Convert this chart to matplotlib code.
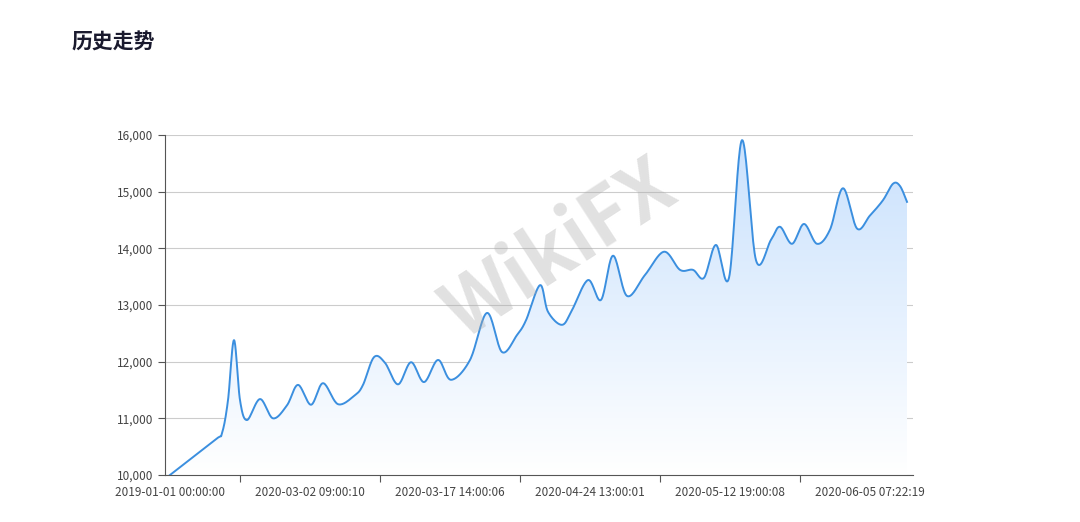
import numpy as np
import matplotlib
matplotlib.use("Agg")
import matplotlib.pyplot as plt
from matplotlib.patches import Polygon
from matplotlib.colors import LinearSegmentedColormap

plt.rcParams['font.family'] = ['Noto Sans CJK SC', 'DejaVu Sans']

# position along time axis (arbitrary units) and values
pos = [5, 50, 57, 63, 69, 75, 82, 95, 108, 122, 133, 146, 158, 173, 190, 198, 209, 220, 233, 246,
       259, 273, 286, 305, 322, 337, 352, 361, 375, 383, 397, 407, 423, 436, 448, 462, 480, 499,
       515, 528, 539, 551, 564, 577, 591, 606, 615, 627, 639, 652, 665, 678, 692, 705, 718, 728,
       735, 742]
vals = [10000, 10620, 10740, 11320, 12380, 11320, 10970, 11340, 11000, 11230, 11590, 11240, 11620,
        11250, 11410, 11590, 12080, 11980, 11600, 11990, 11640, 12030, 11680, 12030, 12860, 12170,
        12470, 12730, 13350, 12880, 12650, 12910, 13440, 13090, 13870, 13160, 13530, 13940, 13620,
        13620, 13480, 14060, 13480, 15910, 13790, 14150, 14380, 14080, 14430, 14080, 14330, 15060,
        14350, 14580, 14850, 15140, 15100, 14820]
x_labels = ["2019-01-01 00:00:00", "2020-03-02 09:00:10", "2020-03-17 14:00:06",
            "2020-04-24 13:00:01", "2020-05-12 19:00:08", "2020-06-05 07:22:19"]
label_pos = [5, 145, 285, 425, 565, 705]
tick_pos = [75, 215, 355, 495, 635]

def catmull(x, y, n=20):
    x = np.asarray(x, float); y = np.asarray(y, float)
    P = np.column_stack([x, y])
    P = np.vstack([P[0], P, P[-1]])
    out = []
    for i in range(1, len(P) - 2):
        p0, p1, p2, p3 = P[i-1], P[i], P[i+1], P[i+2]
        t = np.linspace(0, 1, n, endpoint=False)[:, None]
        pts = 0.5*((2*p1) + (-p0+p2)*t + (2*p0-5*p1+4*p2-p3)*t**2 + (-p0+3*p1-3*p2+p3)*t**3)
        out.append(pts)
    out.append(P[-2][None])
    return np.vstack(out)

fig = plt.figure(figsize=(10.8, 5.22), dpi=100)
ax = fig.add_axes([165/1080, 47/522, 748/1080, 340/522])
ax.set_xlim(0, 748)
ax.set_ylim(10000, 16000)

sm = catmull(pos, vals)
grad = np.linspace(0, 1, 256)[:, None]
cmap = LinearSegmentedColormap.from_list("g", ["#ffffff", "#c9e1fd"])
im = ax.imshow(grad, cmap=cmap, aspect='auto', extent=[0, 748, 10000, 15950], origin='lower', zorder=1)
poly = Polygon(np.vstack([sm, [[sm[-1, 0], 10000], [sm[0, 0], 10000]]]), closed=True, transform=ax.transData)
im.set_clip_path(poly)
ax.plot(sm[:, 0], sm[:, 1], color='#3b8fdf', lw=1.4, zorder=3)

ax.set_yticks(range(10000, 16001, 1000))
ax.set_yticklabels([f"{v:,}" for v in range(10000, 16001, 1000)], fontsize=8.5, color='#444')
ax.yaxis.grid(True, color='#cccccc', lw=0.8)
ax.set_axisbelow(True)
ax.set_xticks(tick_pos)
ax.set_xticklabels([])
ax.set_xticks(label_pos, minor=True)
ax.set_xticklabels(x_labels, minor=True, fontsize=8.5, color='#444')
ax.tick_params(axis='x', which='minor', length=0, pad=8)
ax.tick_params(axis='x', which='major', length=5, color='#555')
ax.tick_params(axis='y', length=5, color='#555')
for s in ['top', 'right']:
    ax.spines[s].set_visible(False)
ax.spines['left'].set_color('#555')
ax.spines['bottom'].set_color('#555')

fig.text(72/1080, 1 - 42/522, "历史走势", fontsize=15, fontweight='bold', color='#1a1a2e', va='center')
fig.text(560/1080, 1 - 250/522, "WikiFX", fontsize=56, fontweight='bold', color='#aaaaaa',
         alpha=0.35, rotation=33, ha='center', va='center', zorder=0)

fig.savefig("out.png", dpi=100)
